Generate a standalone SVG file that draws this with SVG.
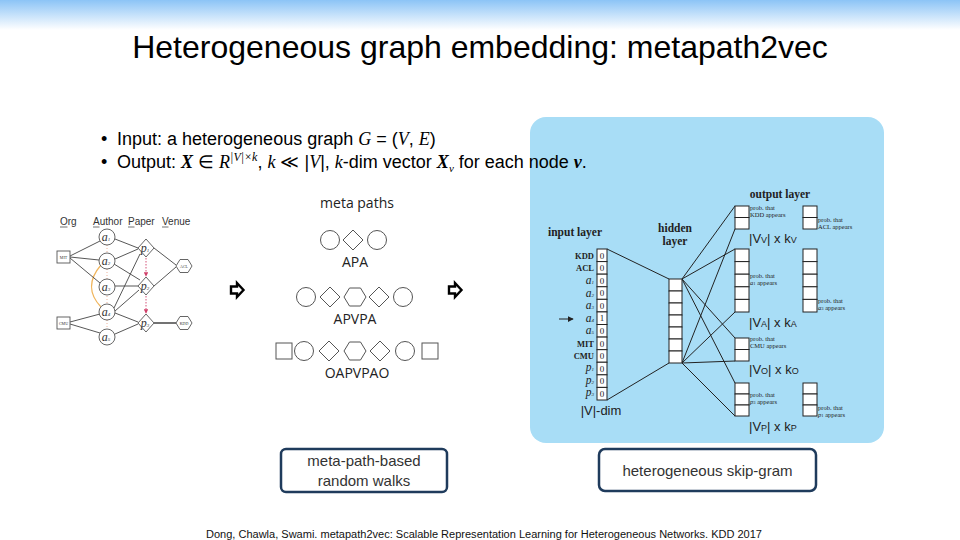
<svg xmlns="http://www.w3.org/2000/svg" width="960" height="540" viewBox="0 0 960 540">
<defs>
<linearGradient id="topbar" x1="0" y1="0" x2="0" y2="1">
<stop offset="0" stop-color="#8cc4f6"/>
<stop offset="1" stop-color="#ffffff"/>
</linearGradient>
<marker id="redarr" viewBox="0 0 6 6" refX="5" refY="3" markerWidth="5" markerHeight="5" orient="auto">
<path d="M0,0 L6,3 L0,6 z" fill="#d0406a"/>
</marker>
<marker id="blkarr" viewBox="0 0 8 8" refX="7" refY="4" markerWidth="6" markerHeight="6" orient="auto">
<path d="M0,0 L8,4 L0,8 z" fill="#222"/>
</marker>
</defs>
<style>
.title{font-family:"Liberation Sans",Arial,sans-serif;font-size:32px;fill:#000}
.bul{font-family:"Liberation Sans",Arial,sans-serif;font-size:18px;fill:#000}
.math{font-family:"Liberation Serif","DejaVu Serif",serif;font-style:italic}
.hdr{font-family:"Liberation Sans",sans-serif;font-size:10px;fill:#333}
.gshape{fill:#fff;stroke:#555;stroke-width:0.9}
.gedge{stroke:#444;stroke-width:0.9;fill:none}
.nl{font-family:"Liberation Serif",serif;font-style:italic;font-size:12px;fill:#333}
.tiny{font-family:"Liberation Serif",serif;font-size:4px;fill:#333}
.mp{fill:#fff;stroke:#555;stroke-width:1}
.mpt{font-family:"Open Sans","Liberation Sans",sans-serif;font-size:14px;fill:#222}
.barrow{fill:#fff;stroke:#000;stroke-width:2.4;stroke-linejoin:miter}
.cell{fill:#fff;stroke:#222;stroke-width:1}
.sl{font-family:"Liberation Serif",serif;font-weight:bold;font-size:11.5px;fill:#222}
.sm{font-family:"Liberation Serif",serif;font-weight:bold;font-size:8.5px;fill:#222}
.it{font-family:"Liberation Serif",serif;font-style:italic;font-size:11.5px;fill:#222}
.num{font-family:"Liberation Serif",serif;font-size:9px;fill:#222}
.prob{font-family:"Liberation Serif",serif;font-size:6.5px;fill:#222}
.dim{font-family:"Liberation Sans",sans-serif;font-size:13px;fill:#222}
.nn{stroke:#222;stroke-width:1;fill:none}
.box{fill:#fff;stroke:#1f3b5c;stroke-width:2.5}
.boxt{font-family:"Liberation Sans",Arial,sans-serif;font-size:15px;fill:#333}
.cite{font-family:"Liberation Sans",Arial,sans-serif;font-size:10px;fill:#111}
</style>
<rect x="0" y="0" width="960" height="540" fill="#fff"/>
<rect x="0" y="0" width="960" height="30" fill="url(#topbar)"/>
<text class="title" x="480" y="58" text-anchor="middle">Heterogeneous graph embedding: metapath2vec</text>
<rect x="530" y="117" width="354" height="326" rx="16" fill="#a8ddf6"/>
<g id="bullets">
<text class="bul" x="101" y="145">•</text>
<text class="bul" x="101" y="168">•</text>
<text class="bul" x="117" y="145">Input: a heterogeneous graph <tspan class="math">G</tspan> = (<tspan class="math">V</tspan>, <tspan class="math">E</tspan>)</text>
<text class="bul" x="117" y="168">Output: <tspan class="math" font-weight="bold">X</tspan> ∈ <tspan class="math">R</tspan><tspan font-size="12" dy="-7" font-family="Liberation Serif" font-style="italic">|V|×k</tspan><tspan dy="7">, </tspan><tspan class="math">k</tspan> ≪ |<tspan class="math">V</tspan>|, <tspan class="math">k</tspan>-dim vector <tspan class="math" font-weight="bold">X</tspan><tspan font-size="11" dy="4" class="math">v</tspan><tspan dy="-4"> for each node </tspan><tspan class="math" font-weight="bold">v</tspan>.</text>
</g>
<g id="hetgraph">
<text class="hdr" x="60" y="225">Org</text>
<text class="hdr" x="93" y="225">Author</text>
<text class="hdr" x="128" y="225">Paper</text>
<text class="hdr" x="162" y="225">Venue</text>
<g stroke="#333" stroke-width="0.7">
<line x1="60" y1="227" x2="67.5" y2="227"/>
<line x1="93" y1="227" x2="99.5" y2="227"/>
<line x1="128" y1="227" x2="134.5" y2="227"/>
<line x1="162" y1="227" x2="168.5" y2="227"/>
</g>
<path d="M101,265 Q82,287 101,307" fill="none" stroke="#f0b45a" stroke-width="1.2"/>
<line x1="107" y1="245" x2="107" y2="327" stroke="#e8a080" stroke-width="0.8" stroke-dasharray="1,2"/>
<g class="gedge">
<line x1="70" y1="256" x2="100" y2="241"/>
<line x1="70" y1="257" x2="99" y2="260"/>
<line x1="70" y1="258" x2="100" y2="283"/>
<line x1="70" y1="322" x2="100" y2="314"/>
<line x1="70" y1="324" x2="100" y2="333"/>
<line x1="115" y1="239" x2="138" y2="248"/>
<line x1="115" y1="259" x2="138" y2="249"/>
<line x1="114" y1="264" x2="140" y2="280"/>
<line x1="115" y1="286" x2="138" y2="286"/>
<line x1="114" y1="308" x2="140" y2="254"/>
<line x1="115" y1="311" x2="139" y2="290"/>
<line x1="115" y1="313" x2="138" y2="322"/>
<line x1="115" y1="334" x2="138" y2="324"/>
<line x1="154" y1="248" x2="176" y2="265"/>
<line x1="154" y1="286" x2="176" y2="267"/>
<line x1="154" y1="323" x2="176" y2="323" stroke-width="1.5"/>
</g>
<line x1="146" y1="258" x2="146" y2="276" stroke="#d0406a" stroke-width="0.9" stroke-dasharray="1.5,1.5" marker-end="url(#redarr)"/>
<line x1="146" y1="296" x2="146" y2="313" stroke="#d0406a" stroke-width="0.9" stroke-dasharray="1.5,1.5" marker-end="url(#redarr)"/>
<rect class="gshape" x="57" y="251" width="13" height="12"/>
<text class="tiny" x="63.5" y="258.5" text-anchor="middle">MIT</text>
<rect class="gshape" x="57" y="317" width="13" height="12"/>
<text class="tiny" x="63.5" y="324.5" text-anchor="middle">CMU</text>
<circle class="gshape" cx="107" cy="237" r="8"/>
<circle class="gshape" cx="107" cy="261" r="8"/>
<circle class="gshape" cx="107" cy="287" r="8"/>
<circle class="gshape" cx="107" cy="312" r="8"/>
<circle class="gshape" cx="107" cy="337" r="8"/>
<text class="nl" x="106" y="241" text-anchor="middle">a<tspan font-size="5">1</tspan></text>
<text class="nl" x="106" y="265" text-anchor="middle">a<tspan font-size="5">2</tspan></text>
<text class="nl" x="106" y="291" text-anchor="middle">a<tspan font-size="5">3</tspan></text>
<text class="nl" x="106" y="316" text-anchor="middle">a<tspan font-size="5">4</tspan></text>
<text class="nl" x="106" y="341" text-anchor="middle">a<tspan font-size="5">5</tspan></text>
<polygon class="gshape" points="146,239 154,248 146,257 138,248"/>
<polygon class="gshape" points="146,277 154,286 146,295 138,286"/>
<polygon class="gshape" points="146,314 154,323 146,332 138,323"/>
<text class="nl" x="145" y="252" text-anchor="middle">p<tspan font-size="5">1</tspan></text>
<text class="nl" x="145" y="290" text-anchor="middle">p<tspan font-size="5">2</tspan></text>
<text class="nl" x="145" y="327" text-anchor="middle">p<tspan font-size="5">3</tspan></text>
<polygon class="gshape" points="176,266 180,259.5 188,259.5 192,266 188,272.5 180,272.5"/>
<polygon class="gshape" points="176,323 180,316.5 188,316.5 192,323 188,329.5 180,329.5"/>
<text class="tiny" x="184" y="267.5" text-anchor="middle">ACL</text>
<text class="tiny" x="184" y="324.5" text-anchor="middle">KDD</text>
</g>
<g id="arrow1"><polygon class="barrow" points="231,286.5 237,286.5 237,283 243.5,290 237,297 237,293.5 231,293.5"/></g>
<g id="arrow2"><polygon class="barrow" points="449,286.5 455,286.5 455,283 461.5,290 455,297 455,293.5 449,293.5"/></g>
<g id="metapaths">
<text class="mpt" x="357" y="208" text-anchor="middle">meta paths</text>
<circle class="mp" cx="330" cy="240" r="9.5"/>
<polygon class="mp" points="353,230 363,240 353,250 343,240"/>
<circle class="mp" cx="377" cy="240" r="9.5"/>
<text class="mpt" x="355" y="267" text-anchor="middle">APA</text>
<circle class="mp" cx="306" cy="297" r="9.5"/>
<polygon class="mp" points="330,287 340,297 330,307 320,297"/>
<polygon class="mp" points="344,297 349.5,288 360.5,288 366,297 360.5,306 349.5,306"/>
<polygon class="mp" points="379,287 389,297 379,307 369,297"/>
<circle class="mp" cx="403" cy="297" r="9.5"/>
<text class="mpt" x="355" y="324" text-anchor="middle">APVPA</text>
<rect class="mp" x="276" y="343" width="16" height="16"/>
<circle class="mp" cx="304" cy="351" r="9.5"/>
<polygon class="mp" points="329,341 339,351 329,361 319,351"/>
<polygon class="mp" points="344,351 349.5,342 360.5,342 366,351 360.5,360 349.5,360"/>
<polygon class="mp" points="380,341 390,351 380,361 370,351"/>
<circle class="mp" cx="405" cy="351" r="9.5"/>
<rect class="mp" x="422" y="343" width="16" height="16"/>
<text class="mpt" x="357" y="378" text-anchor="middle">OAPVPAO</text>
</g>
<g id="skipgram">
<g id="connectors" class="nn">
<line x1="607" y1="249" x2="669" y2="279"/>
<line x1="607" y1="400" x2="669" y2="363"/>
<line x1="682" y1="279" x2="735" y2="206"/>
<line x1="682" y1="279" x2="735" y2="249"/>
<line x1="682" y1="279" x2="735" y2="338"/>
<line x1="682" y1="279" x2="735" y2="383"/>
<line x1="682" y1="363" x2="735" y2="229"/>
<line x1="682" y1="363" x2="735" y2="312"/>
<line x1="682" y1="363" x2="735" y2="361"/>
<line x1="682" y1="363" x2="735" y2="416"/>
</g>
<g id="input-layer">
<text class="sl" x="575" y="236" text-anchor="middle">input layer</text>
<rect class="cell" x="597" y="249" width="10" height="12.58"/>
<rect class="cell" x="597" y="261.58" width="10" height="12.58"/>
<rect class="cell" x="597" y="274.17" width="10" height="12.58"/>
<rect class="cell" x="597" y="286.75" width="10" height="12.58"/>
<rect class="cell" x="597" y="299.33" width="10" height="12.58"/>
<rect class="cell" x="597" y="311.92" width="10" height="12.58"/>
<rect class="cell" x="597" y="324.5" width="10" height="12.58"/>
<rect class="cell" x="597" y="337.08" width="10" height="12.58"/>
<rect class="cell" x="597" y="349.67" width="10" height="12.58"/>
<rect class="cell" x="597" y="362.25" width="10" height="12.58"/>
<rect class="cell" x="597" y="374.83" width="10" height="12.58"/>
<rect class="cell" x="597" y="387.42" width="10" height="12.58"/>
<g class="num" text-anchor="middle">
<text x="602" y="258.5">0</text><text x="602" y="271">0</text><text x="602" y="283.6">0</text><text x="602" y="296.2">0</text><text x="602" y="308.8">0</text><text x="602" y="321.4">1</text><text x="602" y="334">0</text><text x="602" y="346.6">0</text><text x="602" y="359.2">0</text><text x="602" y="371.7">0</text><text x="602" y="384.3">0</text><text x="602" y="396.9">0</text>
</g>
<g text-anchor="end">
<text class="sm" x="594" y="258.5">KDD</text>
<text class="sm" x="594" y="271">ACL</text>
<text class="it" x="594" y="284">a<tspan font-size="5">1</tspan></text>
<text class="it" x="594" y="296.6">a<tspan font-size="5">2</tspan></text>
<text class="it" x="594" y="309.2">a<tspan font-size="5">3</tspan></text>
<text class="it" x="594" y="321.8">a<tspan font-size="5">4</tspan></text>
<text class="it" x="594" y="334.4">a<tspan font-size="5">5</tspan></text>
<text class="sm" x="594" y="346.6">MIT</text>
<text class="sm" x="594" y="359.2">CMU</text>
<text class="it" x="594" y="371">p<tspan font-size="5">1</tspan></text>
<text class="it" x="594" y="383.6">p<tspan font-size="5">2</tspan></text>
<text class="it" x="594" y="396.2">p<tspan font-size="5">3</tspan></text>
</g>
<line x1="559" y1="319" x2="573" y2="319" stroke="#222" stroke-width="1" marker-end="url(#blkarr)"/>
<text class="dim" x="601" y="415" text-anchor="middle">|V|-dim</text>
</g>
<g id="hidden-layer">
<text class="sl" x="675" y="232" text-anchor="middle">hidden</text>
<text class="sl" x="675" y="245" text-anchor="middle">layer</text>
<rect class="cell" x="669" y="279" width="13" height="12"/>
<rect class="cell" x="669" y="291" width="13" height="12"/>
<rect class="cell" x="669" y="303" width="13" height="12"/>
<rect class="cell" x="669" y="315" width="13" height="12"/>
<rect class="cell" x="669" y="327" width="13" height="12"/>
<rect class="cell" x="669" y="339" width="13" height="12"/>
<rect class="cell" x="669" y="351" width="13" height="12"/>
</g>
<g id="output-layer">
<text class="sl" x="780" y="198" text-anchor="middle">output layer</text>
<rect class="cell" x="735" y="206" width="14" height="11.5"/>
<rect class="cell" x="735" y="217.5" width="14" height="11.5"/>
<rect class="cell" x="803" y="206" width="14" height="11.5"/>
<rect class="cell" x="803" y="217.5" width="14" height="11.5"/>
<text class="prob" x="750" y="210">prob. that</text>
<text class="prob" x="750" y="217">KDD appears</text>
<text class="prob" x="818" y="222">prob. that</text>
<text class="prob" x="818" y="229">ACL appears</text>
<text class="dim" x="749" y="243">|V<tspan font-size="9">V</tspan>|  x  k<tspan font-size="9">V</tspan></text>
<rect class="cell" x="735" y="249" width="14" height="12.6"/>
<rect class="cell" x="735" y="261.6" width="14" height="12.6"/>
<rect class="cell" x="735" y="274.2" width="14" height="12.6"/>
<rect class="cell" x="735" y="286.8" width="14" height="12.6"/>
<rect class="cell" x="735" y="299.4" width="14" height="12.6"/>
<rect class="cell" x="803" y="249" width="14" height="12.6"/>
<rect class="cell" x="803" y="261.6" width="14" height="12.6"/>
<rect class="cell" x="803" y="274.2" width="14" height="12.6"/>
<rect class="cell" x="803" y="286.8" width="14" height="12.6"/>
<rect class="cell" x="803" y="299.4" width="14" height="12.6"/>
<text class="prob" x="750" y="278">prob. that</text>
<text class="prob" x="750" y="285"><tspan font-style="italic">a</tspan><tspan font-size="4.5">1</tspan> appears</text>
<text class="prob" x="818" y="303">prob. that</text>
<text class="prob" x="818" y="310"><tspan font-style="italic">a</tspan><tspan font-size="4.5">3</tspan> appears</text>
<text class="dim" x="749" y="327">|V<tspan font-size="9">A</tspan>|  x  k<tspan font-size="9">A</tspan></text>
<rect class="cell" x="735" y="338" width="14" height="11.5"/>
<rect class="cell" x="735" y="349.5" width="14" height="11.5"/>
<text class="prob" x="750" y="341">prob. that</text>
<text class="prob" x="750" y="348">CMU appears</text>
<text class="dim" x="749" y="374">|V<tspan font-size="9">O</tspan>|  x  k<tspan font-size="9">O</tspan></text>
<rect class="cell" x="735" y="383" width="14" height="11"/>
<rect class="cell" x="735" y="394" width="14" height="11"/>
<rect class="cell" x="735" y="405" width="14" height="11"/>
<rect class="cell" x="803" y="383" width="14" height="11"/>
<rect class="cell" x="803" y="394" width="14" height="11"/>
<rect class="cell" x="803" y="405" width="14" height="11"/>
<text class="prob" x="750" y="397">prob. that</text>
<text class="prob" x="750" y="404"><tspan font-style="italic">p</tspan><tspan font-size="4.5">3</tspan> appears</text>
<text class="prob" x="818" y="410">prob. that</text>
<text class="prob" x="818" y="417"><tspan font-style="italic">p</tspan><tspan font-size="4.5">1</tspan> appears</text>
<text class="dim" x="749" y="431">|V<tspan font-size="9">P</tspan>|  x  k<tspan font-size="9">P</tspan></text>
</g>
</g>
<g id="box-walks">
<rect class="box" x="281" y="449" width="166" height="43" rx="5"/>
<text class="boxt" x="364" y="466" text-anchor="middle">meta-path-based</text>
<text class="boxt" x="364" y="486" text-anchor="middle">random walks</text>
</g>
<g id="box-skipgram">
<rect class="box" x="599" y="449" width="217" height="42" rx="6"/>
<text class="boxt" x="707.5" y="476" text-anchor="middle">heterogeneous skip-gram</text>
</g>
<text class="cite" x="206" y="538" textLength="556" lengthAdjust="spacingAndGlyphs">Dong, Chawla, Swami. metapath2vec: Scalable Representation Learning for Heterogeneous Networks. KDD 2017</text>
</svg>
